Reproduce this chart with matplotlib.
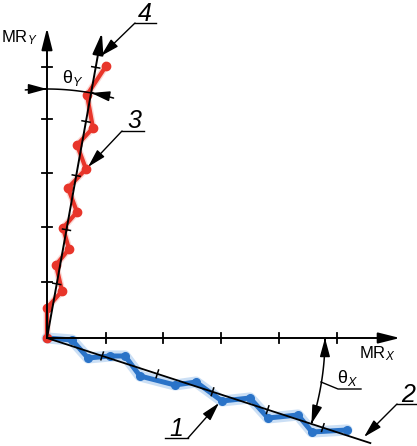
import numpy as np
import matplotlib
matplotlib.use("Agg")
import matplotlib.pyplot as plt
from matplotlib.patches import FancyArrowPatch
from matplotlib.path import Path

plt.rcParams['font.family'] = ['Liberation Sans', 'DejaVu Sans']
plt.rcParams['mathtext.fontset'] = 'custom'
plt.rcParams['mathtext.rm'] = 'Liberation Sans'
plt.rcParams['mathtext.it'] = 'Liberation Sans:italic'

# ---- data (drawing units, origin at the axes crossing, y up) ----
red_x = [0, 0, 15, 9, 22, 16, 30, 21, 39, 30, 46, 40, 59]
red_y = [0, 30, 47, 73, 89, 110, 126, 150, 169, 193, 210, 243, 272]
blue_x = [0, 25, 41, 63, 78, 93, 128, 149, 175, 203, 221, 251, 265, 300]
blue_y = [0, -2, -20, -18, -18, -38, -47, -44, -63, -60, -80, -77, -94, -92]
theta_x_deg = 18.0      # rotation of fitted X line (2)
theta_y_deg = 10.2      # rotation of fitted Y line (3)
x_ticks = [59, 116, 174, 232, 290]
y_ticks = [56, 111, 165, 219, 271]
rot_x_ticks = [58, 116, 174, 232, 290]
rot_y_ticks = [55, 110, 165, 220, 275]
labels = ['1', '2', '3', '4']

W, H = 417, 446
OX, OY = 47, 338


def P(x, y):
    """pixel position of the reference -> drawing units"""
    return (x - OX, OY - y)


fig = plt.figure(figsize=(W / 100, H / 100), dpi=100)
ax = fig.add_axes([0, 0, 1, 1])
ax.set_xlim(-OX, W - OX)
ax.set_ylim(OY - H, OY)
ax.axis('off')

blk = 'black'
ahead = '-|>,head_length=1.2,head_width=0.3'


def arrow(p_from, p_to, lw=1.4, style=ahead, ms=11):
    ax.add_patch(FancyArrowPatch(p_from, p_to, arrowstyle=style,
                                 mutation_scale=ms, color=blk, lw=lw,
                                 shrinkA=0, shrinkB=0, zorder=5))


# axes
arrow((0, 0), P(400, 338))
arrow((0, 0), P(47, 28))
for t in x_ticks:
    ax.plot([t, t], [-5, 5], color=blk, lw=1.3, zorder=4)
for t in y_ticks:
    ax.plot([-5, 5], [t, t], color=blk, lw=1.3, zorder=4)

# fitted line 2 (rotated X)
ax_ = np.radians(-theta_x_deg)
ux = np.array([np.cos(ax_), np.sin(ax_)])
nx = np.array([-ux[1], ux[0]])
L2 = 340
ax.plot([0, L2 * ux[0]], [0, L2 * ux[1]], color=blk, lw=1.3, zorder=4)
for d in rot_x_ticks:
    c = d * ux
    ax.plot([c[0] - 4 * nx[0], c[0] + 4 * nx[0]],
            [c[1] - 4 * nx[1], c[1] + 4 * nx[1]], color=blk, lw=1.1, zorder=4)

# fitted line 3 (rotated Y)
ay_ = np.radians(90 - theta_y_deg)
uy = np.array([np.cos(ay_), np.sin(ay_)])
ny = np.array([-uy[1], uy[0]])
L3 = 310
arrow((0, 0), tuple(L3 * uy))
for d in rot_y_ticks:
    c = d * uy
    ax.plot([c[0] - 4 * ny[0], c[0] + 4 * ny[0]],
            [c[1] - 4 * ny[1], c[1] + 4 * ny[1]], color=blk, lw=1.1, zorder=4)

# measured curves
ax.plot(blue_x, blue_y, color='#a9cbef', lw=8, alpha=0.6, zorder=2,
        solid_capstyle='round', solid_joinstyle='round')
ax.plot(blue_x, blue_y, color='#2a73c8', lw=3.6, zorder=3,
        marker='o', ms=5.5, solid_joinstyle='round')
ax.plot(red_x, red_y, color='#f6b0a8', lw=5, alpha=0.5, zorder=2,
        solid_joinstyle='round')
ax.plot(red_x, red_y, color='#e8352a', lw=3.0, zorder=3,
        marker='o', ms=6, solid_joinstyle='round')


# angle arcs
def arc_pts(r, a0, a1, n=60):
    a = np.radians(np.linspace(a0, a1, n))
    return np.column_stack([r * np.cos(a), r * np.sin(a)])


def arc_arrow(r, a0, a1, style):
    pts = arc_pts(r, a0, a1)
    codes = [Path.MOVETO] + [Path.LINETO] * (len(pts) - 1)
    ax.add_patch(FancyArrowPatch(path=Path(pts, codes), arrowstyle=style,
                                 mutation_scale=8, color=blk, lw=1.1,
                                 shrinkA=0, shrinkB=0, zorder=5))


aw = '-|>,head_length=1.4,head_width=0.38'
aw2 = '<|-|>,head_length=1.4,head_width=0.38'
arc_arrow(278, 0, -theta_x_deg, aw2)
ry = 249
arc_arrow(ry, 95, 90, aw)
ax.plot(*arc_pts(ry, 90, 90 - theta_y_deg).T, color=blk, lw=1.1, zorder=5)
arc_arrow(ry, 90 - 15.5, 90 - theta_y_deg, aw)

# text labels
fs = 12
ax.text(*P(1, 42), r'MR$_{\mathit{Y}}$', fontsize=fs, ha='left', va='baseline')
ax.text(*P(359, 358), r'MR$_{\mathit{X}}$', fontsize=fs, ha='left', va='baseline')
ax.text(*P(62, 83), r'$\mathrm{\theta}_{\mathit{Y}}$', fontsize=13,
        ha='left', va='baseline')
ax.text(*P(337, 383), r'$\mathrm{\theta}_{\mathit{X}}$', fontsize=13,
        ha='left', va='baseline')

# theta_X leader
ax.plot(*zip(P(321, 382), P(338, 389), P(361, 389)), color=blk, lw=1.0, zorder=5)

la = '-|>,head_length=1.4,head_width=0.38'
lead = {
    '1': (P(165, 438), P(188, 438), P(219, 403), P(176, 436)),
    '2': (P(416, 404), P(397, 404), P(364, 437), P(408, 402)),
    '3': (P(144, 131), P(122, 131), P(88, 167), P(134, 128)),
    '4': (P(156, 23), P(135, 23), P(101, 56), P(145, 21)),
}
for lab in labels:
    a, b, tip, tp = lead[lab]
    ax.plot([a[0], b[0]], [a[1], b[1]], color=blk, lw=1.0, zorder=5)
    ax.add_patch(FancyArrowPatch(b, tip, arrowstyle=la, mutation_scale=8,
                                 color=blk, lw=1.0, shrinkA=0, shrinkB=0,
                                 zorder=5))
    ax.text(tp[0], tp[1], lab, fontsize=18, style='italic', ha='center',
            va='baseline')

fig.savefig('out.png', dpi=100)
